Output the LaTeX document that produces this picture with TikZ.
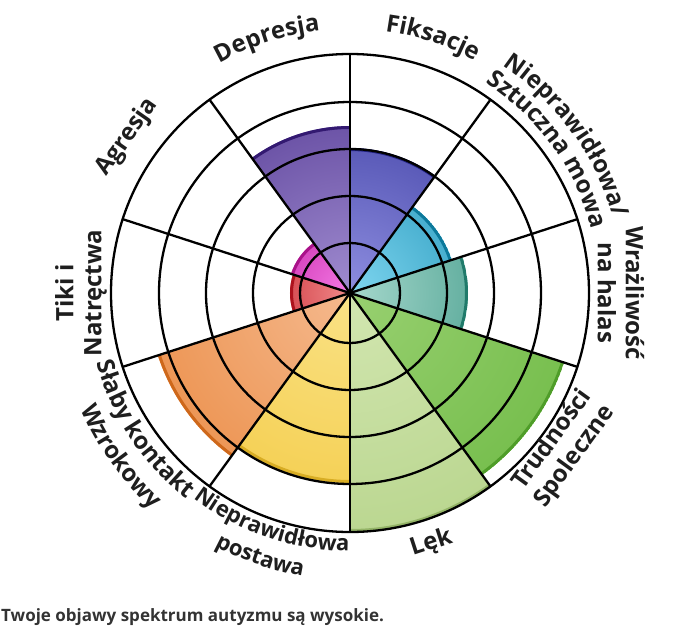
\documentclass[tikz,border=0pt]{standalone}
\usepackage{fontspec}
\setmainfont{Open Sans}
\usepackage{tikz}
\usetikzlibrary{
  positioning,
  calc,
  decorations.text
}
% 各項目の色（中心側／外側）
\definecolor{depIn}{HTML}{A08CD0} \definecolor{depOut}{HTML}{391C7E}
\definecolor{fikIn}{HTML}{8E8EE0} \definecolor{fikOut}{HTML}{262690}
\definecolor{mowIn}{HTML}{7FD6F0} \definecolor{mowOut}{HTML}{0E86AC}
\definecolor{wraIn}{HTML}{A6D8CC} \definecolor{wraOut}{HTML}{248876}
\definecolor{truIn}{HTML}{98D070} \definecolor{truOut}{HTML}{58AE2E}
\definecolor{lekIn}{HTML}{D2E6B0} \definecolor{lekOut}{HTML}{A4C872}
\definecolor{posIn}{HTML}{FAE286} \definecolor{posOut}{HTML}{F0C028}
\definecolor{slaIn}{HTML}{F5B98E} \definecolor{slaOut}{HTML}{E5741E}
\definecolor{tikIn}{HTML}{F08A8A} \definecolor{tikOut}{HTML}{C01420}
\definecolor{agrIn}{HTML}{F47AE6} \definecolor{agrOut}{HTML}{BC1498}
\definecolor{labelgray}{HTML}{1E1E1E}
\definecolor{captiongray}{HTML}{333333}
\newcommand{\lblfont}{\fontsize{24}{28}\selectfont\bfseries\color{labelgray}}
\newcommand{\lblfontn}{\fontsize{22}{26}\selectfont\bfseries\color{labelgray}}
\tikzstyle{ringline}=[line width=2.3pt, black]
\tikzstyle{lbl}=[font=\lblfont, text=labelgray, align=center, inner sep=0pt]
\tikzstyle{arclbl}=[decorate, decoration={text along path, text align=center, text={|\lblfont|#1}}]
\tikzstyle{arclbln}=[decorate, decoration={text along path, text align=center, text={|\lblfontn|#1}}]

\begin{document}
\begin{tikzpicture}[x=1pt, y=1pt]
    \def\R{239};

    \useasboundingbox (-350,293) rectangle (327,-348);

    % 各項目の扇形（放射グラデーション）
    \foreach \s/\r/\col in {90/167/dep, 54/145/fik, 18/107/mow, -18/118/wra, -54/225/tru,
                            -90/239/lek, -126/190/pos, -162/202/sla, 162/60/tik, 126/62/agr} {
      \begin{scope}
        \clip (0,0) -- (\s:\r) arc[start angle=\s, delta angle=36, radius=\r] -- cycle;
        \shade[inner color=\col In, outer color=\col Out] (0,0) circle[radius=2*\r];
        \draw[line width=3pt, \col Out!90!black] (\s:\r-1.5) arc[start angle=\s, delta angle=36, radius=\r-1.5];
      \end{scope}
    }

    % 同心円
    \foreach \r in {50,97,144,191,\R}
      \draw[ringline] (0,0) circle[radius=\r];

    % 放射状の線
    \foreach \a in {18,54,...,342}
      \draw[ringline] (0,0) -- (\a:\R);

    % 項目名（円弧に沿った文字）
    \path[arclbl=Depresja] (138:264) arc[start angle=138, end angle=78, radius=264];
    \path[arclbl=Fiksacje] (102:264) arc[start angle=102, end angle=42, radius=264];
    \path[arclbl=Nieprawidłowa/] (76:274) arc[start angle=76, end angle=-4, radius=274];
    \path[arclbl=Sztuczna mowa] (76:250) arc[start angle=76, end angle=-4, radius=250];
    \path[arclbln=Nieprawidłowa] (-148.8:258) arc[start angle=-148.8, end angle=-68.8, radius=258];
    \path[arclbln=postawa] (-148.8:287) arc[start angle=-148.8, end angle=-68.8, radius=287];
    \path[arclbl=Słaby kontakt] (-186.5:263) arc[start angle=-186.5, end angle=-106.5, radius=263];
    \path[arclbl=Wzrokowy] (-184.5:293) arc[start angle=-184.5, end angle=-104.5, radius=293];

    % 項目名（直線の文字）
    \node[lbl, rotate=-90] (wra) at (0:271) {Wrażliwość\\na halas};
    \node[lbl, rotate=90] (tik) at (180:269) {Tiki i\\Natręctwa};
    \node[lbl, rotate=54] (tru) at (-36:264) {Trudności\\Spoleczne};
    \node[lbl, rotate=18] (lek) at (-72:263) {Lęk};
    \node[lbl, rotate=55] (agr) at (145:272) {Agresja};

    % 結果の文
    \node[anchor=base west, inner sep=0pt, text=captiongray, font=\fontsize{17}{20}\selectfont\bfseries]
      (caption) at (-349,-328.7) {Twoje objawy spektrum autyzmu są wysokie.};
\end{tikzpicture}
\end{document}
